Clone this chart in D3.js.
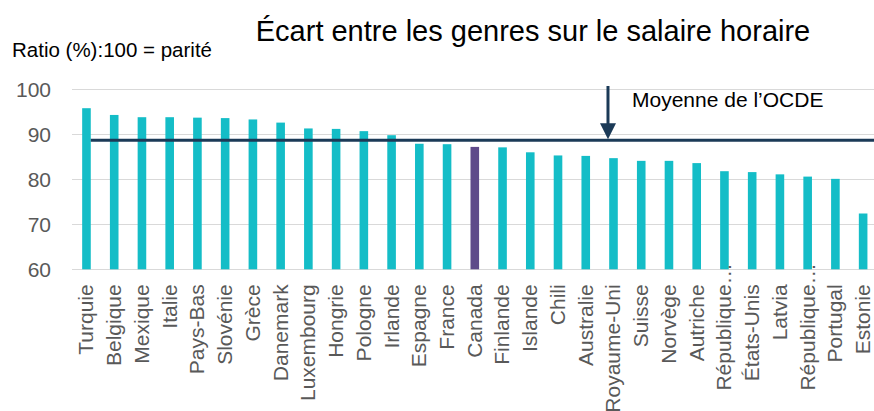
<!DOCTYPE html>
<meta charset="utf-8">
<style>

body {
  margin: 0;
  background: #fff;
}

svg {
  font-family: "Liberation Sans", Arial, sans-serif;
  display: block;
}

.grid line {
  stroke: #d9d9d9;
  stroke-width: 1.5;
  shape-rendering: crispEdges;
}

.y.axis text,
.x.axis text {
  fill: #595959;
  font-size: 21px;
}

</style>
<body>
<script src="https://d3js.org/d3.v7.min.js"></script>
<script>

var pays = ["Turquie", "Belgique", "Mexique", "Italie", "Pays-Bas", "Slovénie", "Grèce",
    "Danemark", "Luxembourg", "Hongrie", "Pologne", "Irlande", "Espagne", "France",
    "Canada", "Finlande", "Islande", "Chili", "Australie", "Royaume-Uni", "Suisse",
    "Norvège", "Autriche", "République…", "États-Unis", "Latvia", "République…",
    "Portugal", "Estonie"];

var ratio = [95.8, 94.3, 93.8, 93.8, 93.7, 93.6, 93.3,
    92.6, 91.3, 91.2, 90.7, 89.8, 87.9, 87.8,
    87.2, 87.1, 86.0, 85.3, 85.2, 84.7, 84.1,
    84.1, 83.6, 81.8, 81.6, 81.1, 80.6,
    80.1, 72.4];

var yTicks = [60, 70, 80, 90, 100];

var moyenneOCDE = 88.7;
var surligne = "Canada";

var width = 874,
    height = 411;

var svg = d3.select("body").append("svg")
    .attr("width", width)
    .attr("height", height);

var x = d3.scaleBand()
    .domain(d3.range(pays.length))
    .range([72.6, 877])
    .paddingInner(0.69)
    .paddingOuter(0.345);

var y = d3.scaleLinear()
    .domain([60, 100])
    .range([269.3, 89.3]);

// titles
svg.append("text")
    .attr("x", 533)
    .attr("y", 41)
    .attr("text-anchor", "middle")
    .style("font-size", "29px")
    .style("fill", "#000")
    .text("Écart entre les genres sur le salaire horaire");

svg.append("text")
    .attr("x", 12)
    .attr("y", 57)
    .style("font-size", "20.5px")
    .style("fill", "#000")
    .text("Ratio (%):100 = parité");

// gridlines
svg.append("g")
    .attr("class", "grid")
  .selectAll("line")
    .data(yTicks)
  .enter().append("line")
    .attr("x1", 72)
    .attr("x2", width)
    .attr("y1", function(d) { return y(d); })
    .attr("y2", function(d) { return y(d); });

// y axis labels
svg.append("g")
    .attr("class", "y axis")
    .attr("transform", "translate(72,0)")
    .call(d3.axisLeft(y).tickValues(yTicks).tickSize(0).tickPadding(21))
    .call(function(g) { g.select(".domain").remove(); });

// bars
svg.append("g")
  .selectAll("rect")
    .data(ratio)
  .enter().append("rect")
    .attr("x", function(d, i) { return x(i); })
    .attr("y", function(d) { return y(d); })
    .attr("width", x.bandwidth())
    .attr("height", function(d) { return y(60) - y(d); })
    .style("fill", function(d, i) { return pays[i] == surligne ? "#5e4a8a" : "#14bdc7"; });

// x labels
var xAxis = svg.append("g")
    .attr("class", "x axis")
    .attr("transform", "translate(0," + y(60) + ")")
    .call(d3.axisBottom(x).tickSize(0).tickFormat(function(i) { return pays[i].replace("…", ""); }));

xAxis.select(".domain").remove();

xAxis.selectAll(".tick text")
    .attr("text-anchor", "end")
    .attr("transform", "rotate(-90)")
    .attr("x", -15)
    .attr("y", 0)
    .attr("dy", "0.33em");

// truncated labels keep their ellipsis sticking up past the start
xAxis.selectAll(".tick")
    .filter(function(i) { return pays[i].indexOf("…") >= 0; })
  .append("text")
    .attr("text-anchor", "start")
    .attr("transform", "rotate(-90)")
    .attr("x", -15)
    .attr("y", 0)
    .attr("dy", "0.33em")
    .text("…");

// OECD average line
var navy = "#1b3a57";

svg.append("line")
    .attr("x1", x(0) + x.bandwidth())
    .attr("x2", width)
    .attr("y1", y(moyenneOCDE))
    .attr("y2", y(moyenneOCDE))
    .style("stroke", navy)
    .style("stroke-width", 3);

// arrow + label
var ax = x(19) + x.bandwidth() / 2 - 5.5,
    tip = y(moyenneOCDE) - 1;

svg.append("line")
    .attr("x1", ax)
    .attr("x2", ax)
    .attr("y1", 86)
    .attr("y2", tip - 14)
    .style("stroke", navy)
    .style("stroke-width", 3);

svg.append("path")
    .attr("d", "M" + (ax - 8) + "," + (tip - 16) + "L" + (ax + 8) + "," + (tip - 16) + "L" + ax + "," + tip + "Z")
    .style("fill", navy);

svg.append("text")
    .attr("x", ax + 24)
    .attr("y", 107)
    .style("font-size", "21px")
    .style("fill", "#000")
    .text("Moyenne de l’OCDE");

</script>
